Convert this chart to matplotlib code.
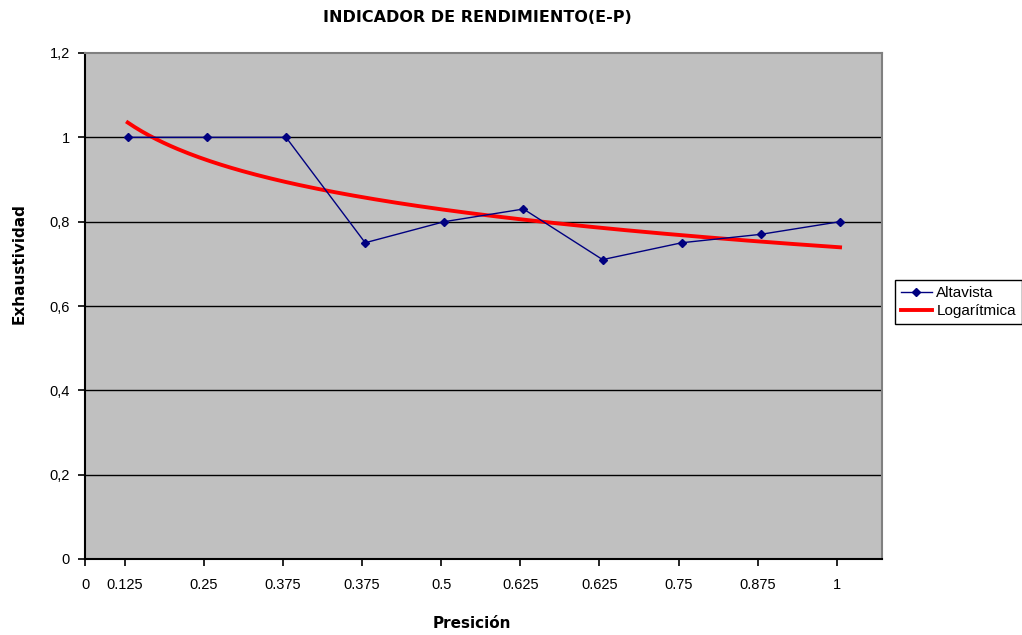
import numpy as np
import matplotlib
matplotlib.use("Agg")
import matplotlib.pyplot as plt

plt.rcParams['font.family'] = ['Liberation Sans', 'DejaVu Sans']

# Data
categories = ["0.125", "0.25", "0.375", "0.375", "0.5", "0.625", "0.625", "0.75", "0.875", "1"]
altavista = [1.0, 1.0, 1.0, 0.75, 0.80, 0.83, 0.71, 0.75, 0.77, 0.80]
y_ticks = [0, 0.2, 0.4, 0.6, 0.8, 1.0, 1.2]
y_tick_labels = ["0", "0,2", "0,4", "0,6", "0,8", "1", "1,2"]

x = np.arange(1, len(categories) + 1)
# logarithmic trendline fitted to data: y = a + b*ln(x)
b, a = np.polyfit(np.log(x), altavista, 1)
xt = np.linspace(1, len(categories), 200)
yt = a + b * np.log(xt)

fig = plt.figure(figsize=(10.22, 6.35), dpi=100)
fig.patch.set_facecolor('white')
ax = fig.add_axes([85/1022, 1 - 559/635, (882 - 85)/1022, (559 - 53)/635])
ax.set_facecolor('#C0C0C0')

x_left, x_right = 0.46, 10.53
ax.set_xlim(x_left, x_right)
ax.set_ylim(0, 1.2)

for yv in y_ticks[1:-1]:
    ax.axhline(yv, color='black', lw=1.0, zorder=1)

ax.plot(xt, yt, color='#FF0000', lw=2.8, zorder=2, label='Logarítmica')
ax.plot(x, altavista, color='#000080', lw=1.0, marker='D', markersize=4.5,
        markerfacecolor='#000080', markeredgecolor='#000080', zorder=3, label='Altavista')

ax.set_yticks(y_ticks)
ax.set_yticklabels(y_tick_labels)
ax.set_xticks([x_left] + list(x - 0.04))
ax.set_xticklabels(["0"] + categories)

ax.tick_params(axis='both', labelsize=10.5, color='black', length=5, width=1.2, direction='out')
ax.tick_params(axis='x', pad=9)
ax.tick_params(axis='y', pad=6)

for s in ['left', 'bottom']:
    ax.spines[s].set_color('black')
    ax.spines[s].set_linewidth(1.5)
for s in ['top', 'right']:
    ax.spines[s].set_color('#808080')
    ax.spines[s].set_linewidth(1.5)

bold_font = ['DejaVu Sans']
fig.text(477/1022, 1 - 18/635, "INDICADOR DE RENDIMIENTO(E-P)", ha='center', va='center',
         fontsize=11.5, fontweight='bold', family=bold_font)
fig.text(472/1022, 1 - 624/635, "Presición", ha='center', va='center',
         fontsize=11, fontweight='bold', family=bold_font)
fig.text(19/1022, 1 - 264/635, "Exhaustividad", ha='center', va='center',
         fontsize=11, fontweight='bold', rotation=90, family=bold_font)

handles, labels = ax.get_legend_handles_labels()
leg = fig.legend(handles[::-1], labels[::-1], loc='upper left',
                 bbox_to_anchor=(895/1022, 1 - 280/635), fontsize=11,
                 frameon=True, fancybox=False, edgecolor='black', framealpha=1,
                 handlelength=2.0, handletextpad=0.3, borderpad=0.4, labelspacing=0.25,
                 borderaxespad=0)
leg.get_frame().set_linewidth(1.0)

fig.savefig("out.png", dpi=100)
